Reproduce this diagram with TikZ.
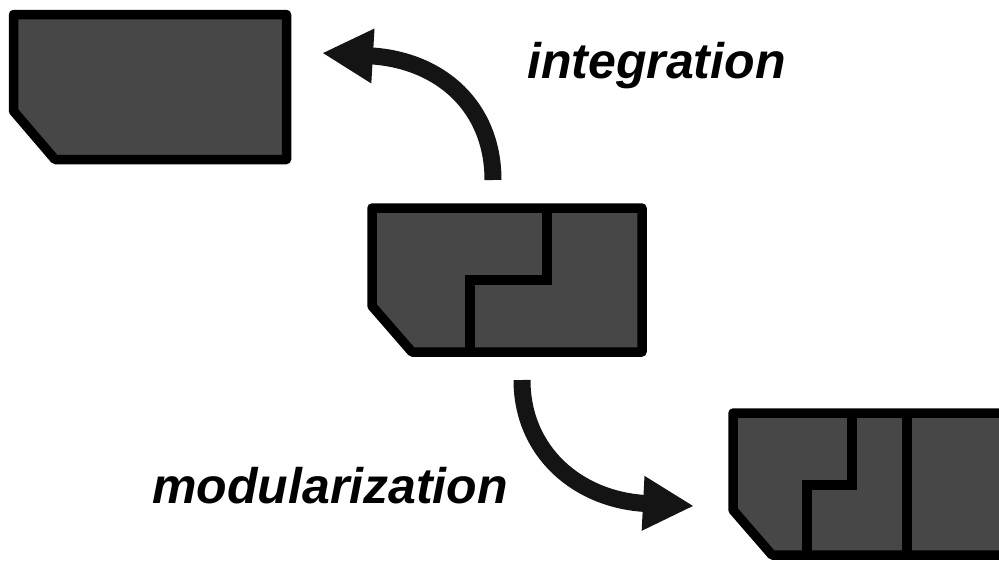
\documentclass[tikz,border=0pt]{standalone}
\usepackage{fontspec}
\setmainfont{Liberation Sans}
\usetikzlibrary{arrows.meta}
\begin{document}
\begin{tikzpicture}[x=1pt,y=-1pt,
  block/.style={draw=black, fill=black!72, line width=9.5pt, line join=round},
  seam/.style={draw=black, line width=9.5pt, line join=miter},
  turn/.style={draw=black!92, line width=17pt,
    -{Triangle[length=51pt,width=51pt]}},
  caption/.style={anchor=base west, inner sep=0pt,
    font=\fontsize{50}{50}\selectfont\bfseries\itshape}]
  \useasboundingbox (0,0) rectangle (999,560);
  \clip (0,0) rectangle (999,560);

  % single integrated part
  \path[block] (13.5,14.5) -- (286.5,14.5) -- (286.5,159.5) -- (55,159.5)
    -- (13.5,111) -- cycle;

  % part made of two interlocking pieces
  \path[block] (372,208) -- (642,208) -- (642,352) -- (412,352)
    -- (372,306) -- cycle;
  \path[seam] (547,208) -- (547,280) -- (470,280) -- (470,352);

  % part split into three modules
  \path[block] (733,413) -- (1010,413) -- (1010,555) -- (772,555)
    -- (733,510) -- cycle;
  \path[seam] (852,413) -- (852,485) -- (807,485) -- (807,555);
  \path[seam] (907,413) -- (907,555);

  % curved arrows
  \coordinate (upstart) at (493,180);
  \coordinate (uptip) at (322,53);
  \coordinate (downstart) at (522,380);
  \coordinate (downtip) at (694,506);
  \draw[turn] (upstart) .. controls (493,108) and (442,60) .. (uptip);
  \draw[turn] (downstart) .. controls (522,452) and (578,500) .. (downtip);

  % labels
  \node[caption] (integ) at (527,78) {integration};
  \node[caption] (modul) at (152,503) {modularization};
\end{tikzpicture}
\end{document}
